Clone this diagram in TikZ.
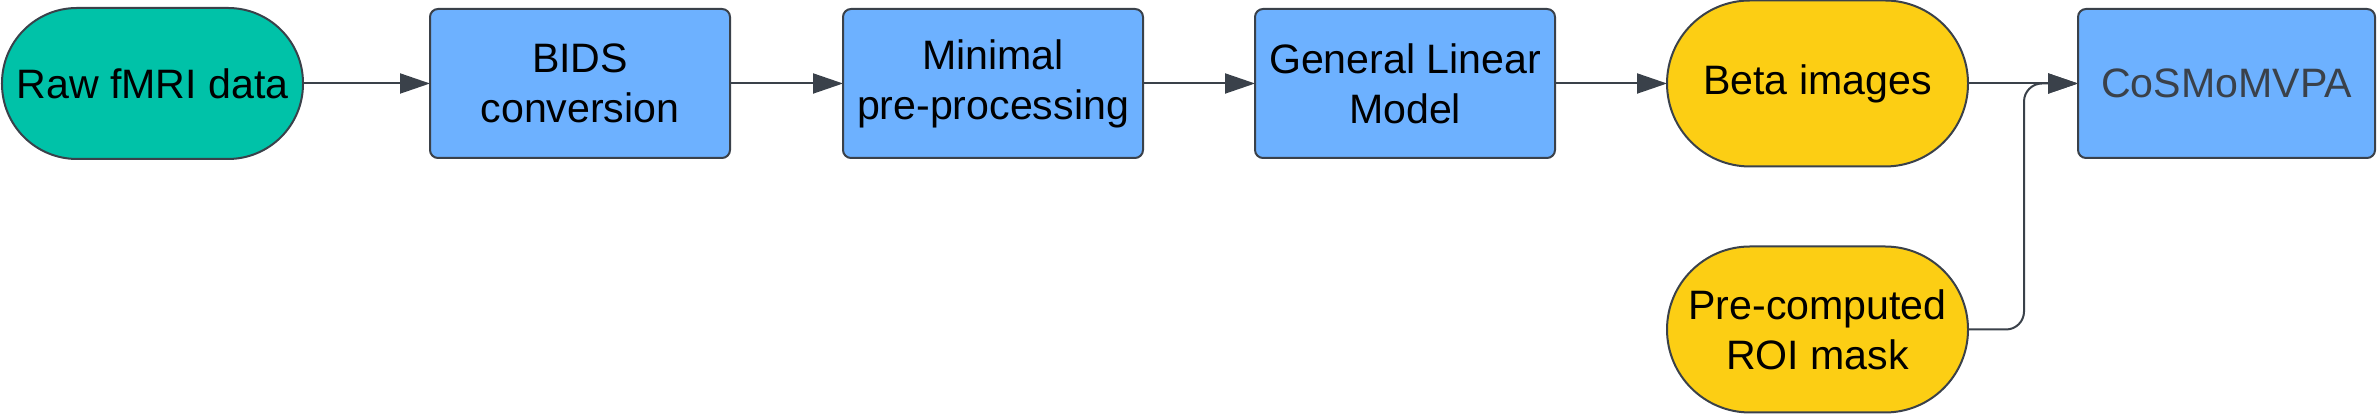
\documentclass[tikz,border=0pt]{standalone}
\usepackage{fontspec}
\setmainfont{Liberation Sans}
\usetikzlibrary{arrows.meta,positioning}
\usepackage{xcolor}
\definecolor{Teal}{HTML}{00C2A8}
\definecolor{Sky}{HTML}{6DB1FF}
\definecolor{Sun}{HTML}{FCCE14}
\definecolor{Edge}{HTML}{3A414A}
\tikzset{
 block/.style={draw=Edge, line width=0.02cm, rounded corners=0.08cm, fill=Sky, minimum width=3.0cm, minimum height=1.49cm, align=center, inner sep=0pt, outer sep=0pt, font=\fontsize{11.7}{14.2}\selectfont},
 tealpill/.style={block, fill=Teal, rounded corners=0.75cm, minimum width=3.01cm, minimum height=1.51cm},
 goldpill/.style={block, fill=Sun, rounded corners=0.83cm, minimum width=3.01cm, minimum height=1.66cm},
 arrow/.style={-{Triangle[length=0.3cm,width=0.2cm]}, line width=0.02cm, draw=Edge}
}

\begin{document}
\begin{tikzpicture}
\useasboundingbox (0,0) rectangle (23.79,-4.14);
\node[tealpill] (raw) at (1.525,-0.835) {Raw fMRI data};
\node[block,right=1.27cm of raw] (bids) {BIDS\\conversion};
\node[block,right=1.13cm of bids] (prep) {Minimal\\pre-processing};
\node[block,right=1.12cm of prep] (glm) {General Linear\\Model};
\node[goldpill,right=1.12cm of glm] (beta) {Beta images};
\node[block,right=1.10cm of beta,minimum width=2.97cm,text=Edge] (cosmo) {CoSMoMVPA};
\node[goldpill,below=0.8cm of beta] (roi) {Pre-computed\\ROI mask};
\draw[arrow] (raw)--(bids);\draw[arrow] (bids)--(prep);\draw[arrow] (prep)--(glm);
\draw[arrow] (glm)--(beta);\draw[arrow] (beta)--(cosmo);
\draw[arrow,rounded corners=0.18cm] (roi.east) -- ++(0.56,0) |- (cosmo.west);
\end{tikzpicture}
\end{document}
